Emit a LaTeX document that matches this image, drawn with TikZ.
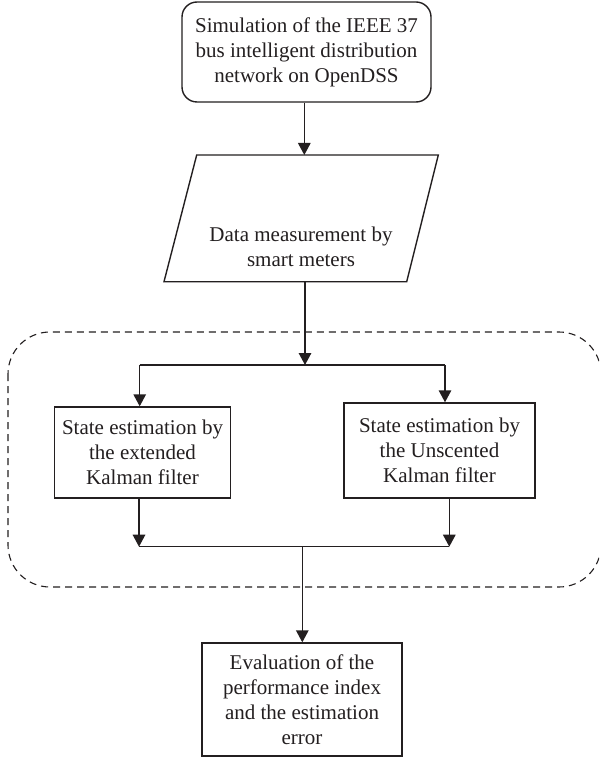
\documentclass[tikz,border=0pt]{standalone}
\usepackage{fontspec}
\setmainfont{Liberation Serif}
\usetikzlibrary{arrows.meta}
\definecolor{ink}{HTML}{231F20}
\begin{document}
\begin{tikzpicture}[x=1pt,y=-1pt,
  every node/.style={text=ink, font=\fontsize{21}{25}\selectfont, align=center},
  box/.style={draw=ink, line width=1.4pt, inner sep=0pt},
  arr/.style={draw=ink, line width=1.4pt, -{Triangle[length=12pt,width=12.5pt]}},
  ln/.style={draw=ink, line width=1.4pt},
  grp/.style={draw=ink, line width=1.1pt, dash pattern=on 7pt off 5pt, rounded corners=42pt}]
\useasboundingbox (0,0) rectangle (599,759);
\clip (0,0) rectangle (599,759);
\fill[white] (0,0) rectangle (599,759);
% group frame
\draw[grp] (8,332) rectangle (601,587);
% nodes
\node[box, rounded corners=15pt, minimum width=249pt, minimum height=100pt] (top) at (306.5,52)
  {Simulation of the IEEE 37\\bus intelligent distribution\\network on OpenDSS};
\coordinate (p1) at (196.7,155);
\coordinate (p2) at (438.3,155);
\coordinate (p3) at (406.7,281.7);
\coordinate (p4) at (164,281.7);
\draw[ln, line join=miter] (p1) -- (p2) -- (p3) -- (p4) -- cycle;
\node (data) at (301,247) {Data measurement by\\smart meters};
\coordinate (dtop) at (304.3,155);
\coordinate (dbot) at (305,281.7);
\node[box, minimum width=176.4pt, minimum height=91pt] (ekf) at (142.5,452.5)
  {State estimation by\\the extended\\Kalman filter};
\node[box, minimum width=191pt, minimum height=95pt] (ukf) at (439.5,450.5)
  {State estimation by\\the Unscented\\Kalman filter};
\node[box, minimum width=200pt, minimum height=113pt] (eval) at (302,699.5)
  {Evaluation of the\\performance index\\and the estimation\\error};
% connector points
\coordinate (split) at (305,365);
\coordinate (sL) at (139.7,365);
\coordinate (sR) at (445,365);
\coordinate (mL) at (139,546.7);
\coordinate (mR) at (449.3,546.7);
\coordinate (mC) at (302.3,546.7);
% connectors
\draw[arr] (top.south -| dtop) -- (dtop);
\draw[arr] (dbot) -- (split);
\draw[ln] (sL) -- (sR);
\draw[arr] (sL) -- (sL |- ekf.north);
\draw[arr] (sR) -- (sR |- ukf.north);
\draw[arr] (ekf.south -| mL) -- (mL);
\draw[arr] (ukf.south -| mR) -- (mR);
\draw[ln] (mL) -- (mR);
\draw[arr] (mC) -- (mC |- eval.north);
\end{tikzpicture}
\end{document}
